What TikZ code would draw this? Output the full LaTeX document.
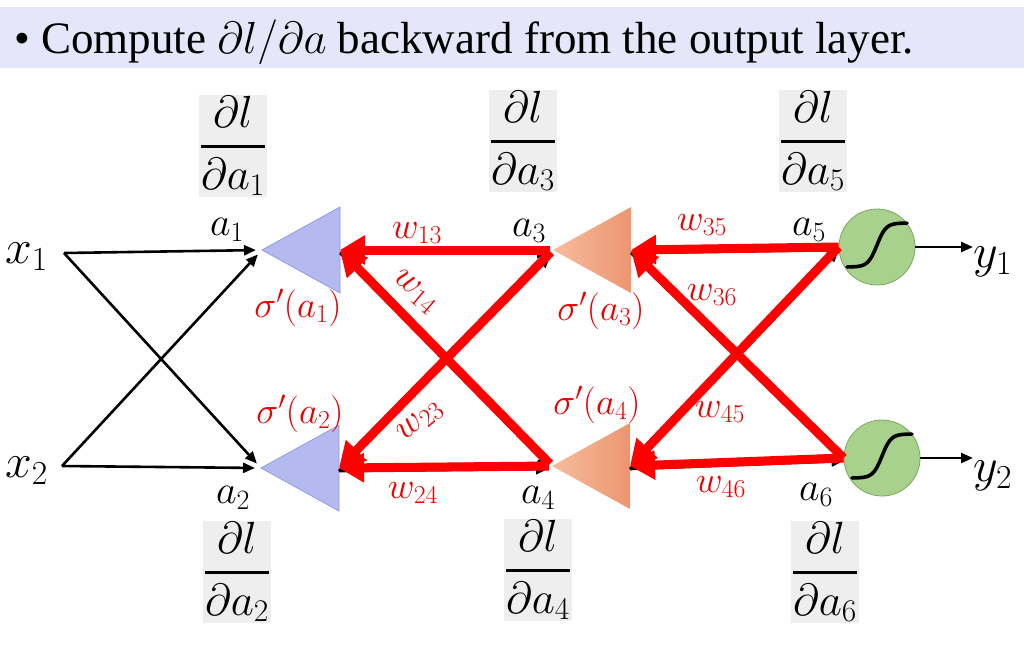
\RequirePackage{fix-cm}
\documentclass[tikz,border=0pt]{standalone}
\usepackage{amsmath}
\usepackage{fontspec}
\setmainfont{Liberation Serif}
\usetikzlibrary{arrows.meta}

\definecolor{bandcol}{RGB}{230,230,250}
\definecolor{hidblue}{RGB}{180,186,240}
\definecolor{hidblueline}{RGB}{140,150,225}
\definecolor{hidorangeA}{RGB}{246,188,158}
\definecolor{hidorangeB}{RGB}{236,150,112}
\definecolor{outgreen}{RGB}{169,209,142}
\definecolor{outgreenline}{RGB}{120,170,95}
\definecolor{fracgray}{RGB}{238,238,238}
\definecolor{wred}{RGB}{235,0,0}

\newcommand{\gradfrac}[1]{\genfrac{}{}{3.2pt}{0}{\partial l}{\partial a_{#1}}}

\tikzset{
    fwd/.style={-{Triangle[length=12pt,width=10pt]}, line width=2.6pt},
    back/.style={red, line width=9pt, -{Triangle[length=25pt,width=28pt]}},
    wlabel/.style={wred, font=\fontsize{37}{40}\selectfont, inner sep=0pt},
    alabel/.style={font=\fontsize{40}{44}\selectfont, inner sep=0pt},
    iolabel/.style={font=\fontsize{48}{52}\selectfont, inner sep=0pt},
    gradbox/.style={fill=fracgray, font=\fontsize{45}{48}\selectfont,
        inner sep=1pt, minimum width=63pt, minimum height=93pt},
    tblue/.style={fill=hidblue, draw=hidblueline, line width=0.7pt},
    torange/.style={left color=hidorangeA, right color=hidorangeB},
    outnode/.style={circle, fill=outgreen, draw=outgreenline,
        line width=0.8pt, minimum size=76pt, inner sep=0pt}
}

\begin{document}
\begin{tikzpicture}[x=1pt,y=-1pt]
    \useasboundingbox (0,0) rectangle (1024,657);

    % heading band
    \fill[bandcol] (0,7) rectangle (1024,68);
    \node[anchor=base west, inner sep=0pt, font=\fontsize{45}{50}\selectfont]
        (title) at (14,53)
        {\textbullet\ Compute $\partial l/\partial a$ backward from the output layer.};

    % inputs
    \node[iolabel, anchor=base west] (x1) at (5,263) {$x_1$};
    \node[iolabel, anchor=base west] (x2) at (5,477) {$x_2$};
    \coordinate (in1) at (64,253);
    \coordinate (in2) at (62,466);

    % hidden units: apex T, middle of the base B
    \coordinate (T1) at (262,250); \coordinate (B1) at (340,250);
    \coordinate (T2) at (261,468); \coordinate (B2) at (339,468);
    \coordinate (T3) at (553,250); \coordinate (B3) at (631,250);
    \coordinate (T4) at (552,466); \coordinate (B4) at (630,466);

    \foreach \t/\b/\sty in {T1/B1/tblue, T2/B2/tblue, T3/B3/torange, T4/B4/torange}
        \path[\sty] (\t) -- ([yshift=43pt]\b) -- ([yshift=-43pt]\b) -- cycle;

    % output units
    \node[outnode] (o5) at (877,247) {};
    \node[outnode] (o6) at (882,458) {};
    \foreach \o in {o5,o6} {
        \begin{scope}[shift={(\o)}]
            \draw[line width=3.6pt, line cap=round]
                plot[domain=-30:30, samples=60, smooth] (\x,{-2-22*tanh(\x/9)});
        \end{scope}
    }
    \node[iolabel, anchor=base west] (y1) at (973,267) {$y_1$};
    \node[iolabel, anchor=base west] (y2) at (973,481) {$y_2$};

    % forward connections
    \foreach \s in {in1,in2}
        \foreach \t in {T1,T2}
            \draw[fwd, shorten >=6pt] (\s) -- (\t);
    \foreach \s in {B1,B2}
        \foreach \t in {T3,T4}
            \draw[fwd, shorten >=4pt] ([yshift=-3pt]\s) -- ([yshift=-3pt]\t);
    \foreach \s in {B3,B4}
        \foreach \t in {o5,o6}
            \draw[fwd] ([yshift=-3pt]\s) -- ([yshift=-3pt]\t.west);
    \draw[fwd] (o5.east) -- (o5.east -| y1.west);
    \draw[fwd] (o6.east) -- (o6.east -| y2.west);

    % backward (red) connections
    \foreach \s/\t in {T3/B1, T4/B1, T3/B2, T4/B2}
        \draw[back, shorten <=3pt] (\s) -- (\t);
    \foreach \s/\t in {o5/B3, o6/B3, o5/B4, o6/B4}
        \draw[back] (\s.west) -- (\t);

    % weights
    \node[wlabel] (w13) at (417,233) {$w_{13}$};
    \node[wlabel, rotate=-40] (w14) at (415,292) {$w_{14}$};
    \node[wlabel, rotate=40] (w23) at (420,421) {$w_{23}$};
    \node[wlabel] (w24) at (413,493) {$w_{24}$};
    \node[wlabel] (w35) at (702,225) {$w_{35}$};
    \node[wlabel] (w36) at (712,295) {$w_{36}$};
    \node[wlabel] (w45) at (720,412) {$w_{45}$};
    \node[wlabel] (w46) at (721,487) {$w_{46}$};

    % activations
    \foreach \n/\x/\y in {1/227/230, 2/233/498, 3/529/231, 4/538/498, 5/809/230, 6/816/495}
        \node[alabel] (a\n) at (\x,\y) {$a_\n$};

    % derivatives of the units
    \foreach \n/\x/\y in {1/298/308, 2/300/414, 3/601/311, 4/597/405}
        \node[wlabel] (s\n) at (\x,\y) {$\sigma'(a_\n)$};

    % gradients
    \foreach \n/\x/\y in {1/233/146, 3/523/141, 5/813/141, 2/237/572, 4/538/570, 6/825/572}
        \node[gradbox] (g\n) at (\x,\y) {$\gradfrac{\n}$};
\end{tikzpicture}
\end{document}
